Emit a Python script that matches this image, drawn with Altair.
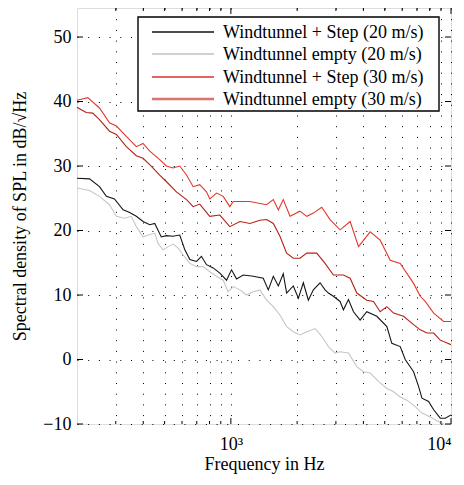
import altair as alt
import pandas as pd

series_names = [
    "Windtunnel + Step (20 m/s)",
    "Windtunnel empty (20 m/s)",
    "Windtunnel + Step (30 m/s)",
    "Windtunnel empty (30 m/s)",
]
line_colors = ["#151515", "#c6c6c6", "#e2382c", "#b42217"]
legend_colors = ["#151515", "#d0d0d0", "#d9332a", "#d8756d"]
legend_widths = [1.4, 1.8, 1.5, 2.3]

step20_f = [200, 228, 253, 272, 296, 324, 347, 372, 399, 428, 451, 483, 509, 546, 586, 618, 651, 698, 735, 775,
            831, 891, 956, 1007, 1061, 1138, 1264, 1403, 1479, 1559, 1643, 1730, 1792, 1922, 2026, 2134, 2249,
            2370, 2542, 2679, 2774, 2923, 3134, 3245, 3421, 3606, 3865, 4145, 4603, 5113, 5385, 5879, 6195,
            6761, 7128, 7380, 7911, 8340, 8940, 9420, 10000]
step20_v = [28.1, 28.0, 26.8, 25.3, 24.9, 23.2, 22.8, 22.2, 21.4, 20.9, 21.1, 19.0, 19.2, 19.1, 19.3, 17.0, 15.5,
            15.2, 16.0, 14.7, 14.2, 13.4, 12.3, 13.9, 12.5, 13.1, 12.9, 12.6, 10.8, 12.9, 11.4, 13.3, 10.3, 11.4,
            9.5, 11.9, 9.2, 10.8, 11.9, 10.8, 10.3, 9.8, 9.0, 7.7, 9.3, 7.4, 6.1, 7.4, 6.7, 5.1, 2.5, 2.0, 0.0,
            -1.9, -4.2, -6.0, -6.5, -7.8, -9.1, -9.1, -8.6]

empty20_f = [200, 228, 253, 281, 302, 329, 353, 372, 399, 421, 451, 467, 492, 519, 546, 575, 607, 651, 698, 748,
             802, 861, 923, 972, 1025, 1099, 1178, 1264, 1355, 1453, 1559, 1671, 1792, 1922, 2061, 2211, 2411,
             2587, 2774, 2975, 3134, 3421, 3733, 4002, 4293, 4686, 5113, 5484, 5879, 6304, 6882, 7380, 8055,
             8636, 9260, 10000]
empty20_v = [26.6, 26.2, 25.3, 24.0, 22.2, 21.9, 22.2, 20.6, 19.0, 19.3, 19.6, 18.0, 17.0, 17.5, 17.9, 17.3, 16.2,
             14.9, 14.4, 14.4, 13.6, 12.9, 12.3, 10.5, 11.3, 10.8, 10.0, 10.5, 10.8, 9.2, 8.2, 6.9, 5.1, 4.3, 3.8,
             4.3, 4.8, 3.6, 2.0, 1.0, 1.2, 1.0, -1.1, -1.9, -2.1, -3.4, -4.5, -5.0, -5.8, -6.3, -7.3, -8.3, -8.9,
             -9.5, -10.0, -10.6]

step30_f = [200, 224, 253, 281, 302, 335, 372, 399, 428, 475, 509, 546, 586, 629, 674, 722, 775, 802, 861, 923,
            989, 1025, 1220, 1453, 1559, 1643, 1730, 1856, 2061, 2211, 2370, 2587, 2823, 3134, 3482, 3800, 4293,
            4767, 5296, 5879, 6761, 7251, 7640, 8340, 9260, 10000]
step30_v = [40.2, 40.6, 39.0, 36.7, 36.2, 34.6, 33.0, 33.5, 32.3, 31.0, 30.0, 29.7, 30.0, 28.6, 26.8, 27.1, 26.0,
            24.9, 25.8, 25.3, 23.7, 24.5, 24.5, 24.0, 24.8, 23.2, 24.8, 22.2, 23.0, 22.2, 22.7, 23.6, 21.7, 20.1,
            21.4, 17.5, 19.8, 18.5, 15.4, 14.9, 11.8, 9.8, 9.0, 7.2, 5.9, 5.9]

empty30_f = [200, 220, 236, 253, 281, 302, 335, 372, 399, 428, 475, 509, 566, 629, 674, 722, 802, 891, 989, 1099,
             1220, 1355, 1453, 1559, 1671, 1792, 1922, 2061, 2211, 2455, 2679, 2923, 3245, 3482, 3733, 4145, 4446,
             4767, 5113, 5484, 6088, 6761, 7251, 7780, 8340, 8940, 10000]
empty30_v = [39.1, 38.3, 38.2, 37.2, 35.4, 34.9, 33.0, 31.6, 31.2, 30.2, 28.6, 27.6, 26.0, 24.8, 23.7, 24.1, 22.2,
             22.4, 20.6, 21.4, 21.1, 21.6, 21.7, 21.1, 19.1, 16.5, 15.7, 15.7, 16.5, 16.5, 14.9, 13.1, 13.1, 12.6,
             10.3, 9.2, 9.0, 7.4, 8.2, 7.2, 6.7, 5.4, 4.6, 4.1, 4.1, 3.0, 2.3]

x_grid_values = [300, 400, 500, 600, 700, 800, 900, 1000, 2000, 3000, 4000, 5000, 6000, 7000, 8000, 9000, 10000]
x_major_values = [1000, 10000]
y_tick_values = [-10, 0, 10, 20, 30, 40, 50]

FONT = "Liberation Serif"
W, H = 374, 416

rows = []
for name, fs, vs in zip(series_names,
                        [step20_f, empty20_f, step30_f, empty30_f],
                        [step20_v, empty20_v, step30_v, empty30_v]):
    for f, v in zip(fs, vs):
        rows.append({"series": name, "f": f, "v": v})
df = pd.DataFrame(rows)
df["order"] = df["series"].map({n: i for i, n in enumerate(series_names)})

xscale = alt.Scale(type="log", domain=[200, 10000], nice=False)
yscale = alt.Scale(domain=[-10, 54.5], nice=False, zero=False)

x_axis = alt.Axis(
    values=x_grid_values,
    labelExpr="datum.value == 1000 ? '10³' : (datum.value == 10000 ? '10⁴' : '')",
    labelAlign={"condition": {"test": "datum.value == 10000", "value": "right"}, "value": "center"},
    grid=True, gridDash=[1, 9.7], gridColor="#000", gridWidth=1,
    ticks=False, domain=False, labelOverlap=False, labelFlush=False,
    labelFont=FONT, labelFontSize=18, labelColor="#000", labelPadding=11,
    title="Frequency in Hz", titleFont=FONT, titleFontSize=18, titleFontWeight="normal",
    titleColor="#000", titlePadding=2)
y_axis = alt.Axis(
    values=y_tick_values, grid=True, gridDash=[1, 9.7], gridColor="#000", gridWidth=1,
    ticks=False, domain=False, labelOverlap=False,
    labelFont=FONT, labelFontSize=18, labelColor="#000", labelPadding=6,
    title="Spectral density of SPL in dB/√Hz", titleFont=FONT, titleFontSize=18,
    titleFontWeight="normal", titleColor="#000", titlePadding=13)

def xenc():
    return alt.X("f:Q", scale=xscale, axis=x_axis)

def yenc():
    return alt.Y("v:Q", scale=yscale, axis=y_axis)

lines = alt.Chart(df).mark_line(strokeWidth=1.1, clip=True).encode(
    x=xenc(), y=yenc(),
    color=alt.Color("series:N", scale=alt.Scale(domain=series_names, range=line_colors), legend=None),
    detail="order:N",
)

ytick_df = pd.DataFrame({"v": y_tick_values})
ytl = alt.Chart(ytick_df).mark_rule(color="#000", strokeWidth=1).encode(
    x=alt.value(0), x2=alt.value(6), y=yenc())
ytr = alt.Chart(ytick_df).mark_rule(color="#000", strokeWidth=1).encode(
    x=alt.value(W - 6), x2=alt.value(W), y=yenc())

xt_df = pd.DataFrame({"f": x_grid_values})
xt_df["major"] = xt_df["f"].isin(x_major_values)
minor_df = xt_df[~xt_df["major"]]
major_df = xt_df[xt_df["major"]]
xtb_min = alt.Chart(minor_df).mark_rule(color="#000").encode(
    x=xenc(), y=alt.value(H), y2=alt.value(H - 3))
xtt_min = alt.Chart(minor_df).mark_rule(color="#000").encode(
    x=xenc(), y=alt.value(0), y2=alt.value(3))
xtb_maj = alt.Chart(major_df).mark_rule(color="#000").encode(
    x=xenc(), y=alt.value(H), y2=alt.value(H - 6))
xtt_maj = alt.Chart(major_df).mark_rule(color="#000").encode(
    x=xenc(), y=alt.value(0), y2=alt.value(6))

one = pd.DataFrame({"a": [0]})
legend_box = alt.Chart(one).mark_rect(fill="white", stroke="#000", strokeWidth=1.4).encode(
    x=alt.value(61), x2=alt.value(362), y=alt.value(9), y2=alt.value(103))

legend_layers = [legend_box]
row_y = [24, 46, 69, 91]
for name, col, wdt, yy in zip(series_names, legend_colors, legend_widths, row_y):
    legend_layers.append(alt.Chart(one).mark_rule(color=col, strokeWidth=wdt).encode(
        x=alt.value(75), x2=alt.value(137), y=alt.value(yy)))
    legend_layers.append(alt.Chart(one).mark_text(
        align="left", baseline="middle", font=FONT, fontSize=18, color="#000").encode(
        x=alt.value(146), y=alt.value(yy + 1), text=alt.value(name)))

chart = alt.layer(lines, ytl, ytr, xtb_min, xtt_min, xtb_maj, xtt_maj, *legend_layers).properties(
    width=W, height=H,
    autosize=alt.AutoSizeParams(type="none"),
    padding={"left": 69, "top": 0, "right": 5, "bottom": 53},
).configure_view(stroke="#000", strokeWidth=1.3).configure(background="white")

chart.save("out.html", embed_options={"renderer": "svg", "actions": False})
